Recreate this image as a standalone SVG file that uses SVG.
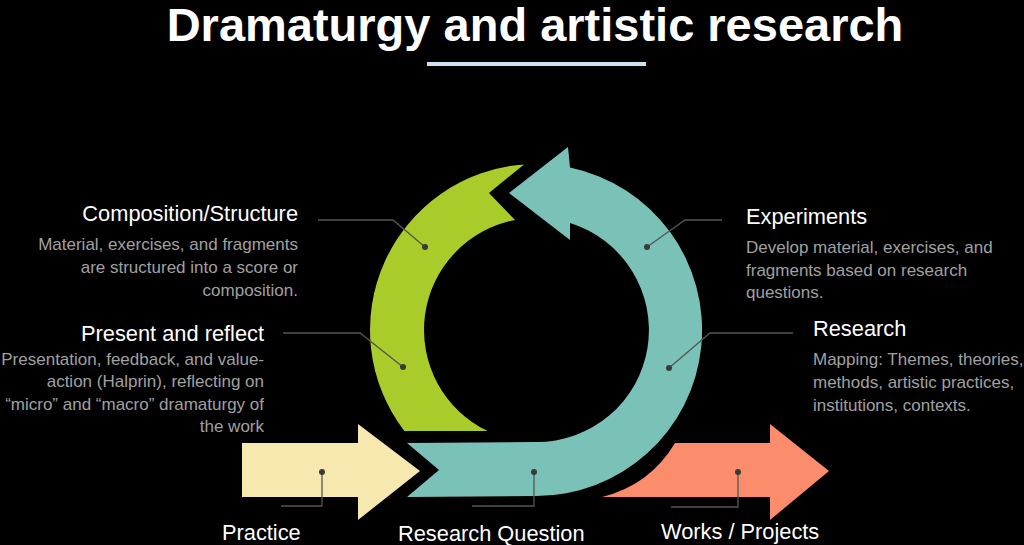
<svg xmlns="http://www.w3.org/2000/svg" width="1024" height="545" viewBox="0 0 1024 545">
<style>
text{font-family:"Liberation Sans",Arial,sans-serif}
.h{fill:#fff;font-size:21.8px}
.d{fill:#a0a0a0;font-size:17px}
.r{text-anchor:end}
.ld{fill:none;stroke:#555;stroke-width:1.3}
.dot{fill:#3a3a3a}
</style>
<rect width="1024" height="545" fill="#000"/>
<text x="535" y="41" text-anchor="middle" font-size="47" font-weight="bold" fill="#fff">Dramaturgy and artistic research</text>
<rect x="427" y="62" width="219" height="4" fill="#cfe3ef"/>
<g id="green"><path d="M524,164.4 L489,193 L515,220 A112,112 0 0 0 487.6,431 L404.3,431 A166,166 0 0 1 524,164.4 Z" fill="#a9cc2a"/></g>
<g id="teal"><path d="M570,167.5 A166,166 0 0 1 536,496 L407,497 L439,470 L407,443 L536,442 A112,112 0 0 0 570,223 L570,240 L509,193 L568,147 Z" fill="#7ac2b8"/></g>
<g id="practice"><path d="M242,443 H358 V424 L420,471 L358,520 V497 H242 Z" fill="#f7e8b0"/></g>
<g id="works"><path d="M602,497 Q650,485 675,443 H770 V424 L829,471 L770,520 V497 Z" fill="#fb8c6c"/></g>
<g id="connectors">
<path class="ld" d="M318,220 H393 L425,247"/>
<path class="ld" d="M283,333 H360 L403,367"/>
<path class="ld" d="M722,220 H685 L647,247"/>
<path class="ld" d="M793,333 H710 L669,368"/>
<path class="ld" d="M322,472 V506 H281"/>
<path class="ld" d="M534,472 V506 H472"/>
<path class="ld" d="M738,472 V507 H671"/>
<circle class="dot" cx="425" cy="247" r="3"/>
<circle class="dot" cx="403" cy="367" r="3"/>
<circle class="dot" cx="647" cy="247" r="3"/>
<circle class="dot" cx="669" cy="368" r="3"/>
<circle class="dot" cx="322" cy="472" r="3"/>
<circle class="dot" cx="534" cy="472" r="3"/>
<circle class="dot" cx="738" cy="472" r="3"/>
</g>
<g id="composition">
<text class="h r" x="298" y="221">Composition/Structure</text>
<text class="d r" x="298" y="250">Material, exercises, and fragments</text>
<text class="d r" x="298" y="273">are structured into a score or</text>
<text class="d r" x="298" y="296">composition.</text>
</g>
<g id="present">
<text class="h r" x="264" y="341">Present and reflect</text>
<text class="d r" x="264" y="365">Presentation, feedback, and value-</text>
<text class="d r" x="264" y="387">action (Halprin), reflecting on</text>
<text class="d r" x="264" y="410">“micro” and “macro” dramaturgy of</text>
<text class="d r" x="264" y="432">the work</text>
</g>
<g id="experiments">
<text class="h" x="746" y="224">Experiments</text>
<text class="d" x="746" y="253">Develop material, exercises, and</text>
<text class="d" x="746" y="276">fragments based on research</text>
<text class="d" x="746" y="298">questions.</text>
</g>
<g id="research">
<text class="h" x="813" y="336">Research</text>
<text class="d" x="813" y="365">Mapping: Themes, theories,</text>
<text class="d" x="813" y="388">methods, artistic practices,</text>
<text class="d" x="813" y="411">institutions, contexts.</text>
</g>
<text class="h" x="222" y="540">Practice</text>
<text class="h" x="398" y="541">Research Question</text>
<text class="h" x="661" y="539">Works / Projects</text>
</svg>
